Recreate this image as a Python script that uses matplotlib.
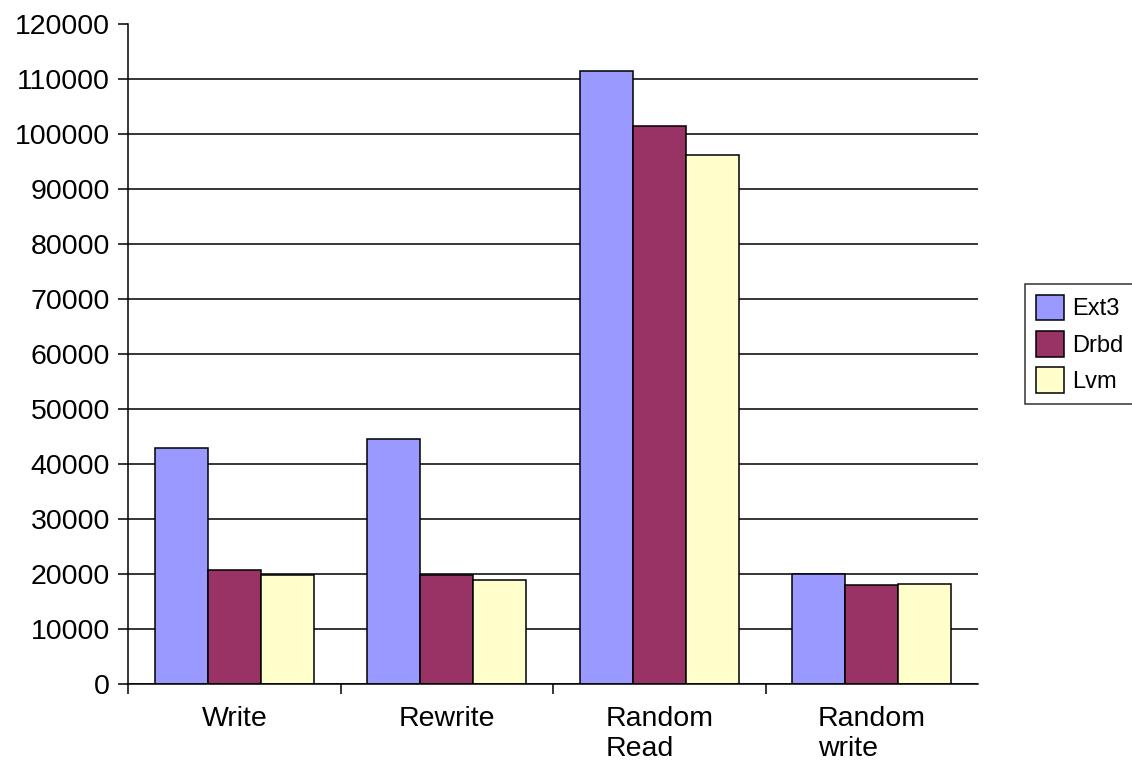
import matplotlib
matplotlib.use("Agg")
import matplotlib.pyplot as plt
import numpy as np

# benchmark groups and throughput per storage layer
categories = ["Write", "Rewrite", "Random\nRead", "Random\nwrite"]
ext3 = [42800, 44500, 111500, 19900]
drbd = [20600, 19800, 101500, 17900]
lvm = [19700, 18900, 96200, 18200]

series = [("Ext3", ext3, "#9999FF"), ("Drbd", drbd, "#993366"), ("Lvm", lvm, "#FFFFCC")]

plt.rcParams["font.family"] = ["Liberation Sans", "DejaVu Sans"]

fig = plt.figure(figsize=(11.32, 7.65), dpi=100)
ax = fig.add_axes([128 / 1132, 1 - 683.5 / 765, 850 / 1132, 659 / 765])

x = np.arange(len(categories))
w = 0.25
for i, (name, vals, col) in enumerate(series):
    ax.bar(x + (i - 1) * w, vals, width=w, color=col, edgecolor="black",
           linewidth=1.1, label=name, zorder=3)

ax.set_xlim(-0.5, 3.5)
ax.set_ylim(0, 120000)
ax.set_yticks(np.arange(0, 120001, 10000))
ax.yaxis.grid(True, color="black", linewidth=1.1, zorder=0)

# category labels sit between the boundary ticks
ax.set_xticks([-0.5, 0.5, 1.5, 2.5])
ax.set_xticklabels([])
ax.set_xticks(x, minor=True)
ax.set_xticklabels(categories, minor=True, fontsize=20.5, multialignment="left")
ax.tick_params(axis="x", which="minor", length=0, pad=16)
ax.tick_params(axis="x", which="major", length=7, width=1.1, direction="out")
ax.tick_params(axis="y", length=7, width=1.1, direction="out", labelsize=20.5, pad=6)

for s in ["top", "right"]:
    ax.spines[s].set_visible(False)
for s in ["left", "bottom"]:
    ax.spines[s].set_linewidth(1.1)
    ax.spines[s].set_zorder(4)

leg = fig.legend(loc="upper left", bbox_to_anchor=(1025 / 1132, 1 - 284 / 765),
                 fontsize=17, frameon=True, fancybox=False, edgecolor="black",
                 handlelength=1.2, handleheight=1.3, handletextpad=0.35,
                 labelspacing=0.45, borderpad=0.45, borderaxespad=0)
leg.get_frame().set_linewidth(1.1)

fig.savefig("out.png", dpi=100)
